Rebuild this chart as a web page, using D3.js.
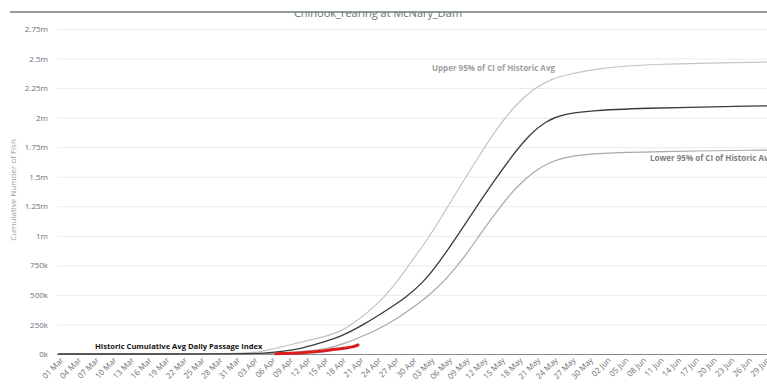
<!DOCTYPE html>
<html>
<head>
<meta charset="utf-8">
<script src="https://cdn.jsdelivr.net/npm/d3@7"></script>
<style>
  html, body { margin: 0; padding: 0; background: #fff; }
  svg { display: block; font-family: "Open Sans", sans-serif; }
</style>
</head>
<body>
<div class="chart"></div>
<script>
// chart size
const width = 767
const height = 389

// historic average (cumulative)
const meanDates = ["2023-03-01", "2023-04-01", "2023-04-05", "2023-04-08", "2023-04-11", "2023-04-14", "2023-04-18", "2023-04-22", "2023-04-26", "2023-04-29", "2023-05-02", "2023-05-05", "2023-05-08", "2023-05-11", "2023-05-14", "2023-05-17", "2023-05-20", "2023-05-23", "2023-05-26", "2023-05-30", "2023-06-07", "2023-06-30"]
const meanValues = [0, 0, 6000, 20000, 42000, 85000, 144000, 250000, 375000, 474000, 600000, 790000, 1010000, 1235000, 1455000, 1665000, 1850000, 1975000, 2030000, 2056000, 2080000, 2100000]

// upper 95% CI
const upperDates = ["2023-03-01", "2023-04-01", "2023-04-04", "2023-04-08", "2023-04-11", "2023-04-15", "2023-04-18", "2023-04-21", "2023-04-24", "2023-04-27", "2023-04-30", "2023-05-03", "2023-05-06", "2023-05-09", "2023-05-12", "2023-05-15", "2023-05-18", "2023-05-21", "2023-05-24", "2023-05-27", "2023-06-01", "2023-06-10", "2023-06-30"]
const upperValues = [0, 0, 13000, 59000, 97000, 144000, 186000, 288000, 406000, 567000, 778000, 981000, 1227000, 1472000, 1709000, 1937000, 2120000, 2250000, 2330000, 2370000, 2420000, 2455000, 2470000]

// lower 95% CI
const lowerDates = ["2023-03-01", "2023-04-04", "2023-04-08", "2023-04-12", "2023-04-15", "2023-04-18", "2023-04-21", "2023-04-24", "2023-04-27", "2023-04-30", "2023-05-03", "2023-05-06", "2023-05-09", "2023-05-12", "2023-05-15", "2023-05-18", "2023-05-21", "2023-05-24", "2023-05-27", "2023-06-01", "2023-06-10", "2023-06-30"]
const lowerValues = [0, 0, 4000, 25000, 38000, 76000, 135000, 199000, 279000, 381000, 491000, 635000, 812000, 1032000, 1235000, 1420000, 1550000, 1633000, 1675000, 1700000, 1713000, 1726000]

// current year daily passage index (cumulative)
const currentDates = ["2023-04-07", "2023-04-09", "2023-04-11", "2023-04-13", "2023-04-15", "2023-04-16", "2023-04-17", "2023-04-18", "2023-04-19", "2023-04-20", "2023-04-21"]
const currentValues = [2000, 5000, 9000, 17000, 25000, 31000, 40000, 44000, 50000, 60000, 76000]

// y axis ticks
const yTicks = [0, 250000, 500000, 750000, 1000000, 1250000, 1500000, 1750000, 2000000, 2250000, 2500000, 2750000]

const parse = d3.timeParse("%Y-%m-%d")
const zip = (ds, vs) => ds.map((d, i) => ({ date: parse(d), value: vs[i] }))

const margin = { left: 57, top: 29 }
const plotRight = 767

const svg = d3.select(".chart").append("svg")
	.attr("width", width)
	.attr("height", height)

// scales
const x = d3.scaleTime()
	.domain([parse("2023-03-01"), parse("2023-06-29")])
	.range([margin.left + 1, 764])

const y = d3.scaleLinear()
	.domain([0, 2750000])
	.range([354, 29])

const yFormat = function (v) {
	if (v === 0) return "0k"
	if (v >= 1000000) return (v / 1000000) + "m"
	return (v / 1000) + "k"
}

// title, the top part is hidden under the header bar
svg.append("text")
	.attr("x", 378)
	.attr("y", 16.5)
	.attr("text-anchor", "middle")
	.attr("font-size", "11px")
	.attr("fill", "#6b7078")
	.text("Chinook_rearing at McNary_Dam")

svg.append("rect")
	.attr("x", 0).attr("y", 0)
	.attr("width", width).attr("height", 12)
	.attr("fill", "#fff")

svg.append("line")
	.attr("x1", 10).attr("x2", width)
	.attr("y1", 12).attr("y2", 12)
	.attr("stroke", "#6e7e72")
	.attr("stroke-width", 1.5)

// grid lines
svg.append("g")
	.selectAll("line")
	.data(yTicks.slice(1))
	.enter()
	.append("line")
	.attr("x1", margin.left)
	.attr("x2", plotRight)
	.attr("y1", d => y(d) + 0.5)
	.attr("y2", d => y(d) + 0.5)
	.attr("stroke", "#ebebeb")
	.attr("stroke-width", 1)

// y axis labels
const yAxis = svg.append("g")
	.attr("transform", `translate(${margin.left},0)`)
	.call(d3.axisLeft(y).tickValues(yTicks).tickFormat(yFormat).tickSize(0).tickPadding(9))
yAxis.select(".domain").remove()
yAxis.selectAll("text")
	.attr("font-size", "8px")
	.attr("font-family", "Open Sans, sans-serif")
	.attr("fill", "#6a6f78")

svg.append("text")
	.attr("transform", "translate(16,190) rotate(-90)")
	.attr("text-anchor", "middle")
	.attr("font-size", "8px")
	.attr("fill", "#9a9ea6")
	.text("Cumulative Number of Fish")

// x axis
const xTicks = d3.timeDay.range(parse("2023-03-01"), parse("2023-06-30"), 3)
const xAxis = svg.append("g")
	.attr("transform", "translate(0,354)")
	.call(d3.axisBottom(x).tickValues(xTicks).tickFormat(d3.timeFormat("%d %b")).tickSize(0).tickPadding(4))
xAxis.select(".domain")
	.attr("d", `M${margin.left},0.5H${plotRight}`)
	.attr("stroke", "#8a8a8a")
	.attr("stroke-width", 1.2)
xAxis.selectAll("text")
	.attr("font-size", "8px")
	.attr("font-family", "Open Sans, sans-serif")
	.attr("fill", "#6a6f78")
	.attr("text-anchor", "end")
	.attr("dx", "-0.1em")
	.attr("dy", "0.6em")
	.attr("transform", "rotate(-45)")

// clip for the lines
svg.append("clipPath")
	.attr("id", "plot-clip")
	.append("rect")
	.attr("x", margin.left)
	.attr("y", 20)
	.attr("width", plotRight - margin.left)
	.attr("height", 340)

const line = d3.line()
	.x(d => x(d.date))
	.y(d => y(d.value))
	.curve(d3.curveBasis)

const series = [
	{ data: zip(upperDates, upperValues), color: "#c4c4c4", w: 1.2 },
	{ data: zip(lowerDates, lowerValues), color: "#a8a8a8", w: 1.2 },
	{ data: zip(meanDates, meanValues), color: "#3a3a3a", w: 1.3 }
]

const lines = svg.append("g").attr("clip-path", "url(#plot-clip)")

lines.selectAll("path.ci")
	.data(series)
	.enter()
	.append("path")
	.attr("class", "ci")
	.attr("d", d => line(d.data))
	.attr("fill", "none")
	.attr("stroke", d => d.color)
	.attr("stroke-width", d => d.w)

lines.append("path")
	.attr("d", d3.line().x(d => x(d.date)).y(d => y(d.value)).curve(d3.curveMonotoneX)(zip(currentDates, currentValues)))
	.attr("fill", "none")
	.attr("stroke", "#d81e1e")
	.attr("stroke-width", 3)
	.attr("stroke-linecap", "round")

// labels
svg.append("text")
	.attr("x", 432).attr("y", 71)
	.attr("font-size", "8px")
	.attr("font-weight", "bold")
	.attr("fill", "#a0a0a0")
	.text("Upper 95% of CI of Historic Avg")

svg.append("text")
	.attr("x", 650).attr("y", 161)
	.attr("font-size", "8px")
	.attr("font-weight", "bold")
	.attr("fill", "#808080")
	.text("Lower 95% of CI of Historic Avg")

svg.append("text")
	.attr("x", 95).attr("y", 349)
	.attr("font-size", "7.6px")
	.attr("font-weight", "bold")
	.attr("fill", "#111")
	.text("Historic Cumulative Avg Daily Passage Index")
</script>
</body>
</html>
